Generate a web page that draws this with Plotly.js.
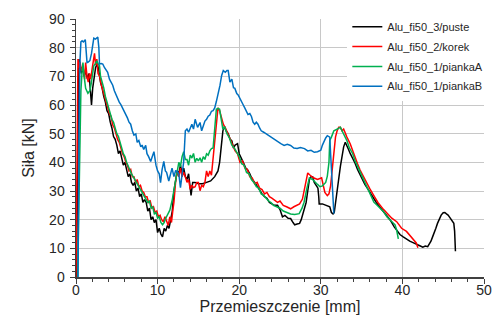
<!DOCTYPE html>
<html>
<head>
<meta charset="utf-8">
<script src="https://cdn.plot.ly/plotly-3.0.1.min.js"></script>
<style>html,body{margin:0;padding:0;background:#fff;}#chart{width:500px;height:323px;}</style>
</head>
<body>
<div id="chart"></div>
<script>
// Series names
const seriesNames = ["Alu_fi50_3/puste", "Alu_fi50_2/korek", "Alu_fi50_1/piankaA", "Alu_fi50_1/piankaB"];
const xTickVals = [0, 10, 20, 30, 40, 50];
const yTickVals = [0, 10, 20, 30, 40, 50, 60, 70, 80, 90];

// Alu_fi50_3/puste (black)
const pusteX = [0.05,0.12,0.2,0.3,0.37,0.5,0.65,0.85,1.0,1.2,1.4,1.6,1.75,1.9,2.05,2.2,2.4,2.6,2.8,3.0,3.2,3.4,3.6,3.8,4.0,4.2,4.4,4.6,4.8,5.0,5.2,5.4,5.6,5.8,6.0,6.2,6.4,6.6,6.8,7.0,7.2,7.4,7.6,7.8,8.0,8.2,8.4,8.6,8.8,9.0,9.2,9.4,9.6,9.8,10.0,10.2,10.4,10.6,10.8,11.0,11.2,11.4,11.6,11.8,12.0,12.2,12.4,12.6,12.8,13.0,13.2,13.4,13.6,13.8,14.0,14.1,14.3,14.6,15.0,15.5,16.0,16.5,17.0,17.4,17.6,17.8,18.0,18.2,18.4,18.65,18.9,19.1,19.3,19.5,19.8,20.0,20.2,20.5,20.8,21.0,21.3,21.6,21.9,22.2,22.5,22.8,23.1,23.4,23.7,24.0,24.3,24.7,25.0,25.3,25.6,26.0,26.3,26.6,26.8,27.1,27.4,27.6,27.8,28.0,28.2,28.4,28.6,28.8,29.0,29.2,29.4,29.65,29.75,29.8,30.2,30.5,30.8,31.1,31.3,31.5,31.65,31.8,32.0,32.2,32.4,32.6,32.8,33.0,33.2,33.4,33.6,33.9,34.2,34.5,34.8,35.1,35.4,35.7,36.0,36.4,36.8,37.2,37.6,38.0,38.5,39.0,39.4,39.7,40.1,40.5,40.9,41.3,41.6,41.9,42.2,42.5,42.8,43.1,43.3,43.5,43.7,43.9,44.1,44.3,44.5,44.75,45.0,45.2,45.4,45.6,45.8,46.0,46.3,46.4,46.45,46.5];
const pusteY = [0,20,50,72,76,74,71,73,70,72,69,71,66,60,66,70,73,74.5,72,68,66,63,61,58,57,54,52,49,48,46,43,44,41,39,40,37,35,36,33,32,33,30,31,28,29,26,27,26,23,24,20,21,19,20,15.5,17,15,14,17,16,18,17,20,23,30,34,37,36,39,36,38,35,34,36,31,28.5,33,33,32.5,32.5,33,33.5,35,37,40,47,51,52.5,51,50,48,47.5,45,46,46.5,43,42,40,38,37.5,36,34,33,31.5,30,29,28,27.5,26,25.5,25,25,23.5,21,21.5,20.5,20.4,19,18.2,18.5,18.7,20,22,24,26,30,34,35,35,33,32,31,28,25.5,25.5,25.2,25,24.5,22.5,22,22.5,26,30,34,38.6,42,45.4,47,45.9,44.5,43.1,41.5,39.7,37.5,35.7,34,32.3,31,29.5,27.5,26,24.5,23,21.5,19.9,17.5,15.8,14.8,14,13.2,12.5,12,11.5,11.3,10.8,10.4,10.8,10.6,11.5,12.5,14,15.3,17,18.7,20,21.6,22.4,22.5,22,21.6,20.8,19.9,18.7,16,14,9];

// Alu_fi50_2/korek (red)
const korekX = [0.0,0.08,0.12,0.18,0.24,0.35,0.5,0.65,0.85,1.06,1.18,1.35,1.5,1.65,1.8,2.0,2.15,2.27,2.4,2.55,2.7,2.9,3.1,3.3,3.5,3.7,3.9,4.1,4.3,4.5,4.7,4.9,5.1,5.3,5.5,5.7,5.9,6.1,6.3,6.5,6.7,6.9,7.1,7.3,7.5,7.7,7.9,8.1,8.3,8.5,8.7,8.9,9.1,9.3,9.5,9.7,9.9,10.1,10.3,10.5,10.7,10.9,11.1,11.3,11.5,11.7,11.9,12.0,12.2,12.4,12.6,12.8,13.0,13.2,13.4,13.6,13.8,14.0,14.2,14.4,14.6,14.8,15.0,15.2,15.4,15.6,15.8,16.0,16.2,16.4,16.6,16.8,17.0,17.2,17.4,17.6,17.8,18.05,18.3,18.6,18.9,19.2,19.5,19.8,20.1,20.4,20.7,21.0,21.3,21.6,21.9,22.2,22.5,22.8,23.1,23.4,23.7,24.0,24.4,24.7,25.0,25.4,25.8,26.3,26.7,27.1,27.4,27.75,28.1,28.4,28.7,29.1,29.6,30.1,30.3,30.5,30.8,31.0,31.2,31.4,31.6,31.8,32.0,32.2,32.4,32.6,32.8,33.0,33.2,33.6,33.9,34.2,34.5,34.8,35.2,35.6,36.0,36.5,37.0,37.7,38.1,38.7,39.3,39.9,40.5,41.0,41.5,41.7,41.9];
const korekY = [0,30,60,70,76,73,75,72,73.7,69,74.8,70,68,71,69,73,76,78,74,76,71,70,67,65,63,60.5,59,57,56,53,52,50,48,47,45,43,42,40,39,37,37.5,35,35,33,34,31.5,32,30,29.5,28,28,26,26.5,24,24.5,22.5,23,21,21.5,20,19.3,21,19.5,18,21,19,24,26,33,37,35,38,35,36.5,35,33,34,30.6,32,31.2,31.5,33,33,30.1,32,31.5,33,37,35,37,35.5,41,46,53,59,58,56,53.3,52,50,48,46.5,44,43,40,40.5,38,37.5,35,34.5,32.5,33,31,30.5,29,29.5,28,27.5,26.5,26,26.5,25,24.5,23.8,24.5,25,25.5,27.2,32,36.3,35.5,34.6,34,34.6,32,29.5,28.4,29,31.8,37.4,44,48.8,51,52.2,52.2,51,51.6,50,48.8,46.5,44,42,39.5,37.4,35,32.9,30.8,28.4,26,23.5,22.2,20.5,19.3,17,15.9,14.2,12.5,11.9,10.2];

// Alu_fi50_1/piankaA (green)
const piankaAX = [0.2,0.3,0.45,0.6,0.75,0.85,1.0,1.18,1.46,1.7,1.87,2.05,2.18,2.4,2.55,2.7,2.88,3.0,3.2,3.4,3.6,3.8,4.0,4.2,4.4,4.6,4.8,5.0,5.2,5.4,5.6,5.8,6.0,6.2,6.4,6.6,6.8,7.0,7.2,7.4,7.6,7.8,8.0,8.2,8.4,8.6,8.8,9.0,9.2,9.4,9.6,9.8,10.0,10.2,10.4,10.6,10.8,11.0,11.2,11.5,11.8,12.0,12.2,12.4,12.6,12.8,13.0,13.2,13.4,13.6,13.8,14.0,14.2,14.4,14.6,14.8,15.0,15.2,15.4,15.6,15.8,16.0,16.2,16.4,16.6,16.8,16.9,17.0,17.2,17.4,17.6,17.8,18.0,18.2,18.5,18.8,19.1,19.4,19.7,20.0,20.3,20.6,20.9,21.2,21.5,21.8,22.1,22.4,22.7,23.0,23.3,23.6,23.9,24.2,24.6,25.0,25.4,25.8,26.3,26.8,27.35,27.7,27.95,28.3,28.6,29.0,29.3,29.6,29.9,30.2,30.6,30.8,31.0,31.1,31.3,31.6,32.0,32.4,32.6,32.8,33.2,33.5,33.9,34.2,34.5,34.8,35.1,35.4,35.7,36.1,36.5,36.9,37.3,37.7,38.1,38.5,39.1,39.3,39.5];
const piankaAY = [0,20,45,65,72,74.8,70,65.8,64.1,65,67.5,71,73.7,74.5,75.4,74.5,73.7,70,68,66,63,61,59,57.5,55,54,51.5,50,49,46.5,45,43,42,40,38.5,37,36,35,34,33.5,32,31,30.5,29,28.5,27,26,26.5,24,24.5,22,22.5,20.5,21,19,18.2,19,20.5,21.6,23.3,27,30.6,34,37,40,38.5,42,43.7,41,41,39,42.5,41.5,43.1,40,41.4,40.5,41.6,40,42,41,43,42.5,44,44.8,45,48,52.2,58.5,58.8,58.5,55,51.5,52.5,50,48.5,46,45,43.5,42,39.5,39,36.5,36,34,33,31.5,31,29,28.5,27.5,26.5,26,25,24.5,24,23,22.5,22,21.8,22.1,24,26.1,31,34.6,34,33,32.3,31.5,31.8,33,35.2,40,47.6,48.8,51,51.6,52.2,51,49.9,47.6,45,43.1,40.5,38.6,36.5,34.6,32.5,30.6,28,26.1,25,23.8,22.8,21,20,18.2,16.3,13.3];

// Alu_fi50_1/piankaB (blue)
const piankaBX = [0.25,0.3,0.4,0.5,0.6,0.75,0.9,1.14,1.25,1.35,1.5,1.7,1.9,2.05,2.18,2.4,2.67,2.8,2.88,3.1,3.28,3.5,3.7,3.88,4.1,4.3,4.5,4.7,4.9,5.1,5.3,5.5,5.7,5.9,6.1,6.3,6.5,6.7,6.9,7.1,7.33,7.5,7.7,7.94,8.1,8.3,8.54,8.7,8.9,9.15,9.35,9.55,9.8,10.0,10.2,10.36,10.55,10.76,10.95,11.1,11.37,11.55,11.77,12.0,12.2,12.38,12.6,12.8,13.0,13.2,13.4,13.6,13.8,14.0,14.2,14.4,14.6,14.9,15.2,15.4,15.6,15.8,16.0,16.2,16.4,16.6,16.8,17.0,17.2,17.4,17.65,17.85,18.05,18.3,18.5,18.65,18.86,19.1,19.3,19.47,19.7,19.87,20.1,20.27,20.5,20.68,20.9,21.08,21.3,21.5,21.7,21.9,22.1,22.3,22.5,22.7,23.0,23.3,23.6,23.9,24.2,24.5,24.8,25.1,25.5,25.9,26.3,26.7,27.1,27.5,28.0,28.4,28.8,29.2,29.6,30.0,30.2,30.4,30.6,30.8,31.0,31.1,31.2,31.35,31.5,31.6];
const piankaBY = [0,30,60,76,82,82.4,82,82.8,78,74.8,75,75.5,78,82,83.3,83,83.7,80,74.3,74.5,74.3,73,72,71.4,69,68,66.9,65,63.5,62.5,61,60.1,59,57.5,56.7,55.5,54,53.3,51,49.5,49.9,47,47.6,45.4,46,44.5,45.9,43,42,40.3,42,43.7,39,37,36,32.9,37.5,40.3,37,36.5,33.5,36,38,35,37,36.9,36,31.2,36,40.3,51,51.6,50.5,52,53.3,51.6,55,52.2,53.9,51,53,54.4,55,56.1,56.5,57.8,58,59,61.2,63.5,66.9,70.3,72,71.4,72,72,68,69,66,65.8,64,63.5,62,61.2,60,59,57.5,56.7,57,56,54,53.3,54,53.3,52,51,50.5,49.9,49.5,48.8,48,47.6,47.1,46.5,45.9,46.3,45.9,45,44.8,45.2,44.8,44,44.2,43.5,43.7,44.2,46,47.6,48.5,49.3,49,48.8,43.1,33,25,22.1];

const seriesX = [pusteX, korekX, piankaAX, piankaBX];
const seriesY = [pusteY, korekY, piankaAY, piankaBY];
const seriesColors = ["#000000", "#ff0000", "#00b050", "#0070c0"];

const traces = seriesNames.map((n, i) => ({
  type: "scatter", mode: "lines", name: n, legendgroup: "g" + i,
  x: seriesX[i], y: seriesY[i],
  line: {color: seriesColors[i], width: 1.5}
}));

const fontFam = "Liberation Sans, Arial, sans-serif";
const axisCommon = {
  showgrid: true, gridcolor: "#c8c8c8", gridwidth: 1,
  zeroline: false, showline: true, linecolor: "#404040", linewidth: 1.5,
  ticks: "outside", ticklen: 5, tickcolor: "#404040", tickwidth: 1,
  tickfont: {family: fontFam, size: 14, color: "#262626"},
  minor: {dtick: 2, ticks: "outside", ticklen: 3, tickcolor: "#404040", showgrid: false}
};

const layout = {
  width: 500, height: 323,
  margin: {l: 76, r: 12, t: 12, b: 46},
  paper_bgcolor: "#ffffff", plot_bgcolor: "#ffffff",
  font: {family: fontFam, color: "#262626"},
  showlegend: true,
  legend: {x: 0.665, y: 1.026, xanchor: "left", yanchor: "top", bgcolor: "#ffffff", borderwidth: 0,
           tracegroupgap: 0.8,
           font: {family: fontFam, size: 11, color: "#262626"}},
  xaxis: Object.assign({}, axisCommon, {
    range: [0, 50], tickvals: xTickVals, ticktext: xTickVals.map(String),
    ticklabelstandoff: -5,
    title: {text: "Przemieszczenie [mm]", font: {family: fontFam, size: 16, color: "#262626"}, standoff: 0}
  }),
  yaxis: Object.assign({}, axisCommon, {
    range: [0, 90], tickvals: yTickVals, ticktext: yTickVals.map(String),
    ticklabelstandoff: 2,
    title: {text: "Siła [kN]", font: {family: fontFam, size: 16, color: "#262626"}, standoff: 10}
  })
};

Plotly.newPlot("chart", traces, layout, {displayModeBar: false, staticPlot: true});
</script>
</body>
</html>
